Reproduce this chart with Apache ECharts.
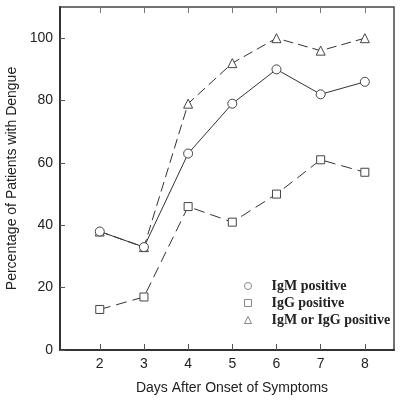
<!DOCTYPE html>
<html><head><meta charset="utf-8">
<script src="https://cdn.jsdelivr.net/npm/echarts@6/dist/echarts.min.js"></script>
<style>html,body{margin:0;padding:0;background:#fff}#c{width:400px;height:402px}</style>
</head><body><div id="c"></div>
<script>
const days = [2, 3, 4, 5, 6, 7, 8];
const igmPositive = [38, 33, 63, 79, 90, 82, 86];
const iggPositive = [13, 17, 46, 41, 50, 61, 57];
const eitherPositive = [38, 33, 79, 92, 100, 96, 100];
const seriesNames = ['IgM positive', 'IgG positive', 'IgM or IgG positive'];
const yTicks = [0, 20, 40, 60, 80, 100];

const pts = arr => days.map((d, i) => [d, arr[i]]);
const lineColor = '#333';
const mk = {color: '#fff', borderColor: '#444', borderWidth: 1};

const chart = echarts.init(document.getElementById('c'), null, {renderer: 'canvas'});
chart.setOption({
  animation: false,
  backgroundColor: '#fff',
  grid: {left: 60, right: 6, top: 7, bottom: 52, show: true, borderColor: '#444', borderWidth: 1.5,
         containLabel: false, outerBoundsMode: 'none'},
  xAxis: [{
    type: 'value', min: 1.1, max: 8.66,
    name: 'Days After Onset of Symptoms', nameLocation: 'middle', nameGap: 31,
    nameTextStyle: {fontFamily: 'Liberation Sans', fontSize: 14, color: '#222', padding: [0, 0, 0, 10]},
    axisLine: {show: true, lineStyle: {color: '#333', width: 2}},
    axisTick: {show: true, inside: true, length: 6, customValues: days, lineStyle: {color: '#555'}},
    axisLabel: {customValues: days, margin: 7, fontFamily: 'Liberation Sans', fontSize: 14, color: '#222'},
    splitLine: {show: false}
  }, {
    type: 'value', min: 1.1, max: 8.66, position: 'top',
    axisLine: {show: false},
    axisTick: {show: true, inside: true, length: 6, customValues: days, lineStyle: {color: '#777'}},
    axisLabel: {show: false},
    splitLine: {show: false}
  }],
  yAxis: {
    type: 'value', min: 0, max: 110, interval: 20,
    name: 'Percentage of Patients with Dengue', nameLocation: 'middle', nameGap: 40,
    nameTextStyle: {fontFamily: 'Liberation Sans', fontSize: 14, color: '#222'},
    axisLine: {show: true, lineStyle: {color: '#333', width: 2}},
    axisTick: {show: true, inside: true, length: 5, customValues: yTicks, lineStyle: {color: '#555'}},
    axisLabel: {customValues: yTicks, margin: 7, fontFamily: 'Liberation Sans', fontSize: 14, color: '#222'},
    splitLine: {show: false}
  },
  legend: {
    orient: 'vertical', left: 239, top: 274, itemWidth: 7, itemHeight: 7, itemGap: 3,
    textStyle: {fontFamily: 'Liberation Serif', fontWeight: 'bold', fontSize: 14, color: '#222', padding: [0, 0, 0, 15]},
    itemStyle: {color: '#fff', borderColor: '#888', borderWidth: 1},
    data: [
      {name: seriesNames[0], icon: 'circle'},
      {name: seriesNames[1], icon: 'rect'},
      {name: seriesNames[2], icon: 'triangle'}
    ]
  },
  series: [
    {name: seriesNames[2], type: 'line', data: pts(eitherPositive), symbol: 'triangle', symbolSize: 9,
     lineStyle: {color: lineColor, width: 1, type: [10, 5]}, itemStyle: mk, z: 2},
    {name: seriesNames[1], type: 'line', data: pts(iggPositive), symbol: 'rect', symbolSize: 8,
     lineStyle: {color: lineColor, width: 1, type: [11, 6]}, itemStyle: mk, z: 3},
    {name: seriesNames[0], type: 'line', data: pts(igmPositive), symbol: 'circle', symbolSize: 9,
     lineStyle: {color: lineColor, width: 1}, itemStyle: mk, z: 4}
  ]
});
</script></body></html>
